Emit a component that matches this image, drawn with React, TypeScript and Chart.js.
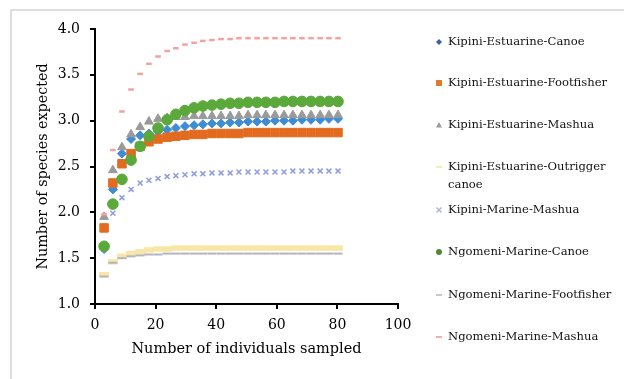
import React, { useEffect, useRef } from "react";
import { Chart, registerables } from "chart.js";

Chart.register(...registerables);

const sampleSizes = [3, 5.9, 8.9, 11.9, 14.9, 17.8, 20.8, 23.8, 26.7, 29.7, 32.7, 35.6, 38.6, 41.6, 44.6, 47.5, 50.5, 53.5, 56.4, 59.4, 62.4, 65.3, 68.3, 71.3, 74.3, 77.2, 80.2];

const seriesNames = [
  "Kipini-Estuarine-Canoe",
  "Kipini-Estuarine-Footfisher",
  "Kipini-Estuarine-Mashua",
  "Kipini-Estuarine-Outrigger canoe",
  "Kipini-Marine-Mashua",
  "Ngomeni-Marine-Canoe",
  "Ngomeni-Marine-Footfisher",
  "Ngomeni-Marine-Mashua",
];

const kipiniEstuarineCanoe = [1.60, 2.25, 2.64, 2.80, 2.84, 2.86, 2.88, 2.90, 2.92, 2.94, 2.95, 2.96, 2.97, 2.97, 2.98, 2.98, 2.99, 2.99, 2.99, 3.00, 3.00, 3.00, 3.01, 3.01, 3.01, 3.02, 3.02];
const kipiniEstuarineFootfisher = [1.83, 2.32, 2.53, 2.64, 2.72, 2.77, 2.80, 2.82, 2.83, 2.84, 2.85, 2.85, 2.86, 2.86, 2.86, 2.86, 2.87, 2.87, 2.87, 2.87, 2.87, 2.87, 2.87, 2.87, 2.87, 2.87, 2.87];
const kipiniEstuarineMashua = [1.95, 2.46, 2.71, 2.85, 2.93, 2.99, 3.02, 3.03, 3.04, 3.04, 3.05, 3.05, 3.05, 3.05, 3.05, 3.05, 3.06, 3.06, 3.06, 3.06, 3.06, 3.06, 3.06, 3.06, 3.06, 3.06, 3.06];
const kipiniEstuarineOutrigger = [1.32, 1.46, 1.52, 1.55, 1.57, 1.59, 1.60, 1.60, 1.61, 1.61, 1.61, 1.61, 1.61, 1.61, 1.61, 1.61, 1.61, 1.61, 1.61, 1.61, 1.61, 1.61, 1.61, 1.61, 1.61, 1.61, 1.61];
const kipiniMarineMashua = [1.60, 1.99, 2.16, 2.25, 2.32, 2.35, 2.37, 2.39, 2.40, 2.41, 2.42, 2.42, 2.43, 2.43, 2.43, 2.44, 2.44, 2.44, 2.44, 2.44, 2.44, 2.45, 2.45, 2.45, 2.45, 2.45, 2.45];
const ngomeniMarineCanoe = [1.63, 2.09, 2.36, 2.57, 2.72, 2.83, 2.92, 3.01, 3.07, 3.11, 3.14, 3.16, 3.17, 3.18, 3.19, 3.19, 3.20, 3.20, 3.20, 3.20, 3.21, 3.21, 3.21, 3.21, 3.21, 3.21, 3.21];
const ngomeniMarineFootfisher = [1.30, 1.45, 1.50, 1.52, 1.53, 1.54, 1.54, 1.55, 1.55, 1.55, 1.55, 1.55, 1.55, 1.55, 1.55, 1.55, 1.55, 1.55, 1.55, 1.55, 1.55, 1.55, 1.55, 1.55, 1.55, 1.55, 1.55];
const ngomeniMarineMashua = [1.98, 2.68, 3.10, 3.34, 3.51, 3.62, 3.70, 3.76, 3.79, 3.83, 3.85, 3.87, 3.88, 3.89, 3.89, 3.90, 3.90, 3.90, 3.90, 3.90, 3.90, 3.90, 3.90, 3.90, 3.90, 3.90, 3.90];

const allSeries = [
  kipiniEstuarineCanoe,
  kipiniEstuarineFootfisher,
  kipiniEstuarineMashua,
  kipiniEstuarineOutrigger,
  kipiniMarineMashua,
  ngomeniMarineCanoe,
  ngomeniMarineFootfisher,
  ngomeniMarineMashua,
];

const yTicks = [1.0, 1.5, 2.0, 2.5, 3.0, 3.5, 4.0];
const xTicks = [0, 20, 40, 60, 80, 100];

const styles = [
  { style: "rectRot", color: "#3d8cd6", radius: 4.5, bw: 1 },
  { style: "rect", color: "#e26b1f", radius: 6, bw: 1 },
  { style: "triangle", color: "#9a9a9a", radius: 5, bw: 1 },
  { style: "line", color: "#f8e6a6", radius: 5, bw: 5.5 },
  { style: "crossRot", color: "#8d9ce0", radius: 3.5, bw: 1.5 },
  { style: "circle", color: "#5aa93a", radius: 5.3, bw: 1 },
  { style: "line", color: "#b4b4be", radius: 4.5, bw: 2 },
  { style: "line", color: "#f3a39c", radius: 2.8, bw: 2.5 },
];

const legendLines = [
  ["Kipini-Estuarine-Canoe"],
  ["Kipini-Estuarine-Footfisher"],
  ["Kipini-Estuarine-Mashua"],
  ["Kipini-Estuarine-Outrigger", "canoe"],
  ["Kipini-Marine-Mashua"],
  ["Ngomeni-Marine-Canoe"],
  ["Ngomeni-Marine-Footfisher"],
  ["Ngomeni-Marine-Mashua"],
];
const legendY = [42, 83, 125, 167, 210, 252, 295, 337];
const legendMarkerColors = ["#3a5fb0", "#e07a2c", "#9a9a9a", "#eef0b0", "#b0b4dd", "#4f8a30", "#c8c8d0", "#f2b0a8"];

const FONT = "'DejaVu Serif', serif";

function drawMarker(ctx: CanvasRenderingContext2D, style: string, x: number, y: number, color: string) {
  ctx.save();
  ctx.fillStyle = color;
  ctx.strokeStyle = color;
  ctx.lineWidth = 1.5;
  ctx.beginPath();
  if (style === "rectRot") {
    ctx.moveTo(x, y - 3);
    ctx.lineTo(x + 3, y);
    ctx.lineTo(x, y + 3);
    ctx.lineTo(x - 3, y);
    ctx.closePath();
    ctx.fill();
  } else if (style === "rect") {
    ctx.fillRect(x - 3, y - 3, 6, 6);
  } else if (style === "triangle") {
    ctx.moveTo(x, y - 3);
    ctx.lineTo(x + 3, y + 2.5);
    ctx.lineTo(x - 3, y + 2.5);
    ctx.closePath();
    ctx.fill();
  } else if (style === "circle") {
    ctx.arc(x, y, 3, 0, Math.PI * 2);
    ctx.fill();
  } else if (style === "crossRot") {
    ctx.moveTo(x - 2.5, y - 2.5);
    ctx.lineTo(x + 2.5, y + 2.5);
    ctx.moveTo(x + 2.5, y - 2.5);
    ctx.lineTo(x - 2.5, y + 2.5);
    ctx.stroke();
  } else {
    ctx.lineWidth = 2;
    ctx.moveTo(x - 3, y);
    ctx.lineTo(x + 3, y);
    ctx.stroke();
  }
  ctx.restore();
}

const framePlugin = {
  id: "frame",
  beforeDraw(chart: any) {
    const ctx = chart.ctx;
    ctx.save();
    ctx.fillStyle = "#ffffff";
    ctx.fillRect(0, 0, chart.width, chart.height);
    ctx.strokeStyle = "#d4d4d4";
    ctx.lineWidth = 1.5;
    ctx.beginPath();
    ctx.moveTo(11, chart.height);
    ctx.lineTo(11, 10);
    ctx.lineTo(624, 10);
    ctx.stroke();
    ctx.restore();
  },
};

const legendPlugin = {
  id: "customLegend",
  afterDraw(chart: any) {
    const ctx = chart.ctx;
    ctx.save();
    ctx.font = `11.6px ${FONT}`;
    ctx.fillStyle = "#111";
    ctx.textBaseline = "middle";
    ctx.textAlign = "left";
    legendLines.forEach((lines, i) => {
      const y = legendY[i];
      drawMarker(ctx, styles[i].style, 439, y, legendMarkerColors[i]);
      lines.forEach((t, j) => ctx.fillText(t, 448, y + j * 18));
    });
    ctx.restore();
  },
};

export default function App() {
  const ref = useRef<HTMLCanvasElement>(null);
  useEffect(() => {
    if (!ref.current) return;
    const datasets = allSeries.map((vals, i) => ({
      label: seriesNames[i],
      data: vals.map((v, k) => ({ x: sampleSizes[k], y: v })),
      showLine: false,
      pointStyle: styles[i].style as any,
      pointRadius: styles[i].radius,
      pointBorderWidth: styles[i].bw,
      backgroundColor: styles[i].color,
      borderColor: styles[i].color,
      order: -i,
    }));
    const chart = new Chart(ref.current, {
      type: "scatter",
      data: { datasets },
      plugins: [framePlugin, legendPlugin],
      options: {
        animation: false,
        responsive: false,
        devicePixelRatio: 1,
        layout: { padding: { left: 31, right: 227, top: 29, bottom: 17 } },
        plugins: { legend: { display: false }, tooltip: { enabled: false } },
        scales: {
          x: {
            type: "linear",
            min: 0,
            max: 100,
            afterFit: (s: any) => { s.height = 379 - 304 - 17; },
            afterBuildTicks: (s: any) => { s.ticks = xTicks.map((v) => ({ value: v })); },
            ticks: { color: "#000", font: { family: FONT, size: 14 }, padding: 8 },
            grid: { display: true, drawOnChartArea: false, drawTicks: true, tickLength: 5, color: "#000", lineWidth: 2 },
            border: { display: true, color: "#000", width: 2 },
            title: { display: true, text: "Number of individuals sampled", color: "#000", font: { family: FONT, size: 14.5 }, padding: { top: 2, bottom: 4 } },
          },
          y: {
            type: "linear",
            min: 1,
            max: 4,
            afterFit: (s: any) => { s.width = 95 - 31; },
            afterBuildTicks: (s: any) => { s.ticks = yTicks.map((v) => ({ value: v })); },
            ticks: { color: "#000", font: { family: FONT, size: 14 }, padding: 10, callback: (v: any) => Number(v).toFixed(1) },
            grid: { display: true, drawOnChartArea: false, drawTicks: true, tickLength: 5, color: "#000", lineWidth: 2 },
            border: { display: true, color: "#000", width: 2 },
            title: { display: true, text: "Number of species expected", color: "#000", font: { family: FONT, size: 14.3 }, padding: { top: 4, bottom: 4 } },
          },
        },
      },
    });
    return () => chart.destroy();
  }, []);
  return (
    <div style={{ position: "absolute", left: 0, top: 0, width: 625, height: 379, background: "#fff" }}>
      <canvas ref={ref} width={625} height={379} style={{ display: "block" }} />
    </div>
  );
}
